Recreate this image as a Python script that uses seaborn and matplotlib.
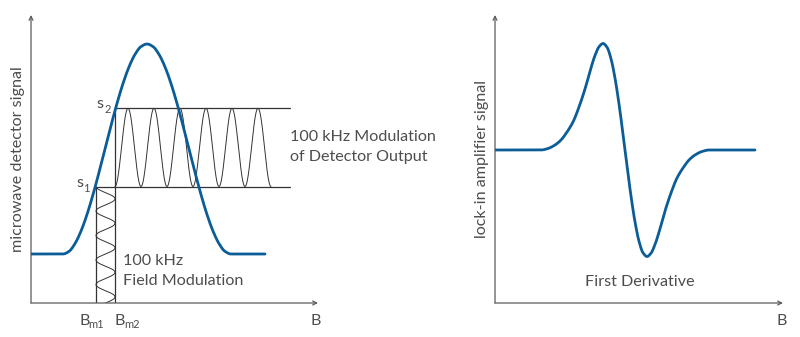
import numpy as np
import pandas as pd
import matplotlib
matplotlib.use("Agg")
import matplotlib.pyplot as plt
import seaborn as sns

# ---- data -------------------------------------------------------------
# absorption line: microwave detector signal against field B
absorption_B = [0, 32, 38, 44, 50, 56, 62, 68, 74, 80, 86, 92, 98, 104, 110, 116,
                122, 128, 134, 140, 146, 152, 158, 164, 170, 176, 182, 188, 194, 200, 234]
absorption_signal = [49, 49, 51.6, 59.4, 71.9, 88.5, 108.4, 130.6, 154.0, 177.4, 199.6,
                     219.5, 236.1, 248.6, 256.4, 259, 256.4, 248.6, 236.1, 219.5, 199.6,
                     177.4, 154.0, 130.6, 108.4, 88.5, 71.9, 59.4, 51.6, 49, 49]

# lock-in output: first derivative of the absorption line
derivative_B = [0, 46, 53, 60, 66, 72, 78, 84, 90, 95, 100, 104, 108, 112, 116, 120, 124,
                127, 130, 133, 136, 140, 144, 148, 152, 156, 160, 165, 170, 176, 182, 188,
                194, 200, 207, 214, 260]
derivative_signal = [153, 153, 154.5, 158, 163, 171, 181, 196, 214, 231.8, 247.5, 256.2,
                     259.5, 255.8, 244.3, 224.9, 199.1, 176.7, 153, 129.3, 106.9, 81.1,
                     61.7, 50.2, 46.5, 49.8, 58.5, 74.2, 92, 110, 125, 135, 143, 148,
                     151.5, 153, 153]

# field modulation limits (Bm1, Bm2) and resulting detector levels (s1, s2)
field_limits = [65, 84]
detector_levels = [116.5, 194.7]
field_mod_cycles = 4.75          # 100 kHz field modulation periods shown
output_mod_cycles = 6            # 100 kHz detector output periods shown
output_mod_end = 240             # B where the detector output trace stops
level_line_end = 259             # B where the s1 / s2 guide lines stop

# ---- style ------------------------------------------------------------
sns.set_theme(style="white")
plt.rcParams["font.family"] = ["Lato", "DejaVu Sans"]
BLUE = "#0b5d98"
INK = "#333333"
AXIS = "#5a5a5a"
TEXT = "#4d4d4d"
FS = 11.6
SUB = 8.0

fig = plt.figure(figsize=(8, 3.37), dpi=100)
W, H = 800, 337


def smooth(x, y, n=800):
    """Monotone cubic (PCHIP) path through the given points, for drawing."""
    x = np.asarray(x, float)
    y = np.asarray(y, float)
    h = np.diff(x)
    delta = np.diff(y) / h
    d = np.zeros_like(y)
    for k in range(1, len(x) - 1):
        if delta[k - 1] * delta[k] > 0:
            w1 = 2 * h[k] + h[k - 1]
            w2 = h[k] + 2 * h[k - 1]
            d[k] = (w1 + w2) / (w1 / delta[k - 1] + w2 / delta[k])
    d[0], d[-1] = delta[0], delta[-1]
    xs = np.linspace(x[0], x[-1], n)
    i = np.clip(np.searchsorted(x, xs) - 1, 0, len(x) - 2)
    t = (xs - x[i]) / h[i]
    h00 = 2 * t**3 - 3 * t**2 + 1
    h10 = t**3 - 2 * t**2 + t
    h01 = -2 * t**3 + 3 * t**2
    h11 = t**3 - t**2
    ys = h00 * y[i] + h10 * h[i] * d[i] + h01 * y[i + 1] + h11 * h[i] * d[i + 1]
    return pd.DataFrame({"B": xs, "signal": ys})


def panel(x0, x1, y0=303, y1=15):
    ax = fig.add_axes([x0 / W, (H - y0) / H, (x1 - x0) / W, (y0 - y1) / H])
    ax.set_xlim(0, x1 - x0)
    ax.set_ylim(0, y0 - y1)
    ax.axis("off")
    for xy in [(x1 - x0, 0), (0, y0 - y1)]:
        ax.annotate("", xy=xy, xytext=(0, 0), annotation_clip=False,
                    arrowprops=dict(arrowstyle="->", color=AXIS, lw=0.9,
                                    shrinkA=0, shrinkB=0, mutation_scale=7))
    return ax


def txt(ax, x, y, s, size=FS, **kw):
    kw.setdefault("ha", "left")
    kw.setdefault("va", "baseline")
    ax.text(x, y, s, fontsize=size, color=TEXT, fontweight="normal",
            clip_on=False, **kw)


# ---- left panel: detector signal -------------------------------------
axL = panel(31, 318)
bm1, bm2 = field_limits
s1, s2 = detector_levels

# guide lines
for xs, ys in [([bm1, bm1], [0, s1]), ([bm2, bm2], [0, s2]),
               ([bm1, level_line_end], [s1, s1]), ([bm2, level_line_end], [s2, s2])]:
    sns.lineplot(x=xs, y=ys, ax=axL, color=INK, lw=0.9, sort=False, estimator=None)

# 100 kHz field modulation (drawn downwards between Bm1 and Bm2)
t = np.linspace(0, 1, 600)
field_df = pd.DataFrame({
    "B": bm1 + (bm2 - bm1) * (1 - np.cos(2 * np.pi * field_mod_cycles * t)) / 2,
    "signal": s1 * (1 - t),
})
sns.lineplot(data=field_df, x="B", y="signal", ax=axL, color=INK, lw=0.7,
             sort=False, estimator=None)

# 100 kHz modulation of the detector output between s1 and s2
bx = np.linspace(bm2, output_mod_end, 900)
out_df = pd.DataFrame({
    "B": bx,
    "signal": s1 + (s2 - s1) * (1 - np.cos(2 * np.pi * output_mod_cycles *
                                          (bx - bm2) / (output_mod_end - bm2))) / 2,
})
sns.lineplot(data=out_df, x="B", y="signal", ax=axL, color=INK, lw=0.7,
             sort=False, estimator=None)

# absorption line
sns.lineplot(data=smooth(absorption_B, absorption_signal), x="B", y="signal",
             ax=axL, color=BLUE, lw=2.0, sort=False, estimator=None, zorder=5)

txt(axL, 65, 194.5, "s")
txt(axL, 73.5, 190, "2", size=SUB)
txt(axL, 45.7, 115.7, "s")
txt(axL, 52.5, 111.3, "1", size=SUB)
txt(axL, 48.5, -22, "B")
txt(axL, 57.3, -25.5, "m1", size=SUB)
txt(axL, 84, -22, "B")
txt(axL, 93, -25.5, "m2", size=SUB)
txt(axL, 280, -22, "B")
txt(axL, 259, 162.3, "100 kHz Modulation")
txt(axL, 259, 142.3, "of Detector Output")
txt(axL, 92, 38, "100 kHz")
txt(axL, 92, 18, "Field Modulation")
txt(axL, -13, 144, "microwave detector signal", ha="center", va="center",
    rotation=90)

# ---- right panel: lock-in amplifier signal ---------------------------
axR = panel(495, 783)
sns.lineplot(data=smooth(derivative_B, derivative_signal), x="B", y="signal",
             ax=axR, color=BLUE, lw=2.0, sort=False, estimator=None)
txt(axR, 145, 17.3, "First Derivative", ha="center")
txt(axR, 282, -22, "B")
txt(axR, -13, 144, "lock-in amplifier signal", ha="center", va="center",
    rotation=90)

fig.savefig("out.png", dpi=100)
